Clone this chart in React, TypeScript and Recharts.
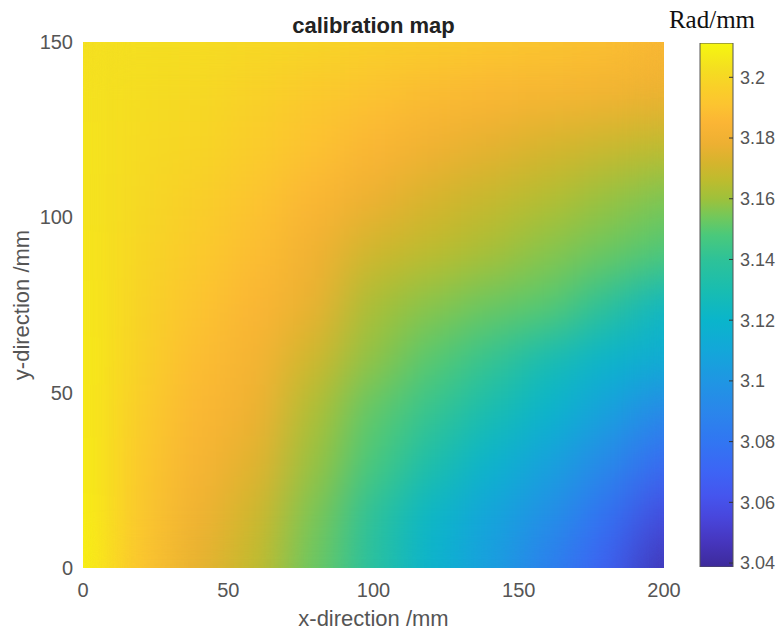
import { ScatterChart, Scatter, XAxis, YAxis, BarChart, Bar } from 'recharts';

// grid nodes of the calibration map (mm)
const X_NODES = [0, 20, 40, 60, 80, 100, 120, 140, 160, 180, 200];
const Y_NODES = [0, 15, 30, 45, 60, 75, 90, 105, 120, 135, 150];

// Rad/mm at each x node, one array per y row
const ROW_Y0 = [3.211, 3.19, 3.176, 3.166, 3.152, 3.136, 3.118, 3.104, 3.084, 3.066, 3.041];
const ROW_Y15 = [3.21, 3.192, 3.18, 3.17, 3.155, 3.138, 3.121, 3.108, 3.096, 3.078, 3.056];
const ROW_Y30 = [3.209, 3.193, 3.183, 3.175, 3.159, 3.147, 3.132, 3.119, 3.107, 3.092, 3.072];
const ROW_Y45 = [3.208, 3.195, 3.186, 3.179, 3.163, 3.151, 3.142, 3.13, 3.12, 3.107, 3.09];
const ROW_Y60 = [3.208, 3.197, 3.188, 3.182, 3.17, 3.158, 3.15, 3.142, 3.129, 3.12, 3.114];
const ROW_Y75 = [3.207, 3.198, 3.191, 3.185, 3.177, 3.162, 3.157, 3.153, 3.15, 3.139, 3.121];
const ROW_Y90 = [3.206, 3.199, 3.194, 3.188, 3.18, 3.17, 3.166, 3.162, 3.157, 3.153, 3.148];
const ROW_Y105 = [3.205, 3.2, 3.196, 3.191, 3.185, 3.178, 3.172, 3.168, 3.164, 3.159, 3.155];
const ROW_Y120 = [3.205, 3.201, 3.199, 3.195, 3.19, 3.185, 3.18, 3.176, 3.172, 3.169, 3.166];
const ROW_Y135 = [3.204, 3.202, 3.2, 3.197, 3.193, 3.19, 3.187, 3.185, 3.183, 3.181, 3.178];
const ROW_Y150 = [3.203, 3.203, 3.202, 3.201, 3.2, 3.198, 3.197, 3.195, 3.193, 3.19, 3.186];

const ROWS = [ROW_Y0, ROW_Y15, ROW_Y30, ROW_Y45, ROW_Y60, ROW_Y75, ROW_Y90, ROW_Y105, ROW_Y120, ROW_Y135, ROW_Y150];

const X_TICKS = [0, 50, 100, 150, 200];
const Y_TICKS = [0, 50, 100, 150];

// colour limits and colorbar ticks
const C_MIN = 3.0387;
const C_MAX = 3.2113;
const CB_TICKS = [3.04, 3.06, 3.08, 3.1, 3.12, 3.14, 3.16, 3.18, 3.2];

// parula-like colormap, value -> colour
const CMAP: [number, string][] = [
  [3.0387, '#3d2a9a'],
  [3.047, '#4636be'],
  [3.055, '#4846dc'],
  [3.062, '#4555ee'],
  [3.07, '#3d64f5'],
  [3.08, '#3176f2'],
  [3.09, '#2a86eb'],
  [3.1, '#1f96e3'],
  [3.11, '#13a7d9'],
  [3.12, '#0ab5cb'],
  [3.13, '#19bdb0'],
  [3.14, '#2ec298'],
  [3.148, '#4ac97b'],
  [3.154, '#72c85b'],
  [3.16, '#9ec13b'],
  [3.166, '#bdbc2e'],
  [3.172, '#d6b42d'],
  [3.178, '#edb032'],
  [3.185, '#fbb535'],
  [3.191, '#fcc430'],
  [3.197, '#f9d028'],
  [3.203, '#f4df20'],
  [3.2113, '#f6f70f'],
];

const X_MIN = 0, X_MAX = 200, X_STEP = 20;
const Y_MIN = 0, Y_MAX = 150, Y_STEP = 15;

// plot box of the main chart
const W = 780, H = 632;
const MARGIN = { top: 42, right: 116, bottom: 0, left: 0 };
const Y_AXIS_W = 83, X_AXIS_H = 64;
const PLOT_W = W - MARGIN.left - MARGIN.right - Y_AXIS_W;
const PLOT_H = H - MARGIN.top - MARGIN.bottom - X_AXIS_H;
const PX_X = PLOT_W / (X_MAX - X_MIN);
const PX_Y = PLOT_H / (Y_MAX - Y_MIN);

const FONT = '"Liberation Sans", Arial, Helvetica, sans-serif';

const cells = ROWS.flatMap((row, j) => row.map((v, i) => ({ x: X_NODES[i], y: Y_NODES[j], v })));

const hex = (c: string) => [1, 3, 5].map((k) => parseInt(c.slice(k, k + 2), 16));

function colorOf(v: number) {
  if (v <= CMAP[0][0]) return CMAP[0][1];
  for (let i = 1; i < CMAP.length; i++) {
    const [v1, c1] = CMAP[i];
    if (v <= v1) {
      const [v0, c0] = CMAP[i - 1];
      const t = (v - v0) / (v1 - v0);
      const a = hex(c0), b = hex(c1);
      const m = a.map((p, k) => Math.round(p + (b[k] - p) * t));
      return `rgb(${m[0]},${m[1]},${m[2]})`;
    }
  }
  return CMAP[CMAP.length - 1][1];
}

// one rectangle per grid node, trimmed at the plot edges
function HeatCell(props: any) {
  const { cx, cy, payload } = props;
  const x0 = Math.max(payload.x - X_STEP / 2, X_MIN);
  const x1 = Math.min(payload.x + X_STEP / 2, X_MAX);
  const y0 = Math.max(payload.y - Y_STEP / 2, Y_MIN);
  const y1 = Math.min(payload.y + Y_STEP / 2, Y_MAX);
  const left = cx - (payload.x - x0) * PX_X;
  const top = cy - (y1 - payload.y) * PX_Y;
  return (
    <rect
      x={left}
      y={top}
      width={(x1 - x0) * PX_X + 0.6}
      height={(y1 - y0) * PX_Y + 0.6}
      fill={colorOf(payload.v)}
    />
  );
}

const tickStyle = { fill: '#555', fontSize: 20, fontFamily: FONT };

export default function App() {
  const barData = [{ name: 'Rad/mm', range: [C_MIN, C_MAX] }];
  return (
    <div className="heatmap" style={{ position: 'absolute', left: 0, top: 0, width: W, height: H, background: '#fff' }}>
      <style>{`.heatmap .main-chart .recharts-scatter { filter: url(#heatBlur); }`}</style>
      <svg width={0} height={0} style={{ position: 'absolute' }}>
        <defs>
          <filter id="heatBlur" x="0" y="0" width="1" height="1" colorInterpolationFilters="sRGB">
            <feGaussianBlur stdDeviation="22 24" />
            <feComponentTransfer>
              <feFuncA type="linear" slope="20" intercept="0" />
            </feComponentTransfer>
          </filter>
          <linearGradient id="parulaBar" x1="0" y1="1" x2="0" y2="0">
            {CMAP.map(([v, c]) => (
              <stop key={v} offset={(v - C_MIN) / (C_MAX - C_MIN)} stopColor={c} />
            ))}
          </linearGradient>
        </defs>
      </svg>

      <div className="main-chart" style={{ position: 'absolute', left: 0, top: 0 }}>
        <ScatterChart width={W} height={H} margin={MARGIN}>
          <XAxis
            type="number"
            dataKey="x"
            domain={[X_MIN, X_MAX]}
            ticks={X_TICKS}
            height={X_AXIS_H}
            axisLine={false}
            tickLine={false}
            tickSize={0}
            tickMargin={15}
            tick={tickStyle}
            allowDataOverflow
          />
          <YAxis
            type="number"
            dataKey="y"
            domain={[Y_MIN, Y_MAX]}
            ticks={Y_TICKS}
            width={Y_AXIS_W}
            axisLine={false}
            tickLine={false}
            tickSize={0}
            tickMargin={10}
            tick={tickStyle}
            allowDataOverflow
          />
          <Scatter data={cells} shape={HeatCell} isAnimationActive={false} />
        </ScatterChart>
      </div>

      <div style={{ position: 'absolute', left: 0, top: 0 }}>
        <BarChart
          width={W}
          height={H}
          data={barData}
          margin={{ top: 43, right: 0, bottom: 65, left: 700 }}
          barCategoryGap={0}
        >
          <XAxis dataKey="name" hide />
          <YAxis
            orientation="right"
            type="number"
            domain={[C_MIN, C_MAX]}
            ticks={CB_TICKS}
            width={47}
            axisLine={false}
            tickSize={-4}
            tickMargin={11}
            tickLine={{ stroke: '#333' }}
            tick={{ fill: '#555', fontSize: 18, fontFamily: FONT }}
            allowDataOverflow
          />
          <Bar dataKey="range" fill="url(#parulaBar)" stroke="#555" strokeWidth={1} isAnimationActive={false} />
        </BarChart>
      </div>

      <svg width={W} height={H} style={{ position: 'absolute', left: 0, top: 0, pointerEvents: 'none' }}>
        <text x={373.5} y={33} textAnchor="middle" fontFamily={FONT} fontSize={22} fontWeight="bold" fill="#222">
          calibration map
        </text>
        <text x={373.5} y={626} textAnchor="middle" fontFamily={FONT} fontSize={22} fill="#555">
          x-direction /mm
        </text>
        <text
          x={29}
          y={305}
          transform="rotate(-90 29 305)"
          textAnchor="middle"
          fontFamily={FONT}
          fontSize={22}
          fill="#555"
        >
          y-direction /mm
        </text>
        <text x={712} y={28} textAnchor="middle" fontFamily='"Liberation Serif", "Times New Roman", serif' fontSize={25} fill="#111">
          Rad/mm
        </text>
      </svg>
    </div>
  );
}
